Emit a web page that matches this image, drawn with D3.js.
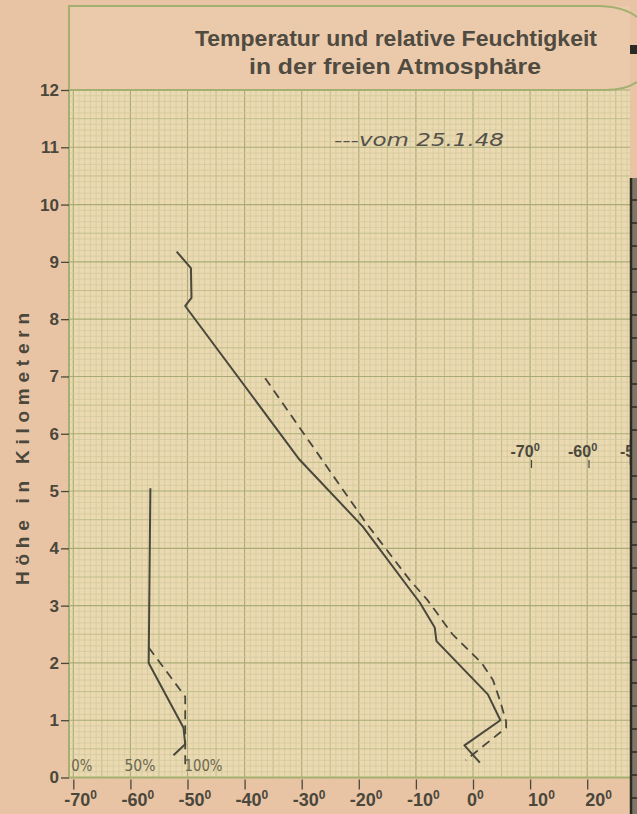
<!DOCTYPE html>
<html><head><meta charset="utf-8">
<script src="https://cdn.jsdelivr.net/npm/d3@7"></script>
<style>
html,body{margin:0;padding:0;background:#e8c5a6;}
svg{display:block;}
</style></head>
<body>
<svg id="c" width="637" height="814"></svg>
<script>
// ---- data ----
const heightTicks = [0,1,2,3,4,5,6,7,8,9,10,11,12];
const tempTicks = [-70,-60,-50,-40,-30,-20,-10,0,10,20];
const humidityLabels = ["0%","50%","100%"];
const humidityLabelValues = [0,50,100];
// Temperature, solid line (°C, km)
const tempSolidT = [-51.9,-49.4,-49.3,-50.4,-30.4,-19.3,-9.3,-6.7,-6.4,2.6,4.8,-1.5,1.2];
const tempSolidH = [9.18,8.89,8.37,8.23,5.55,4.38,3.05,2.62,2.38,1.45,1.0,0.56,0.26];
// Temperature, dashed line "vom 25.1.48"
const tempDashT = [-36.4,-18.7,-11.1,-8.0,-3.6,1.5,3.5,4.7,5.8,5.8,-1.3];
const tempDashH = [6.97,4.44,3.45,3.1,2.5,2.0,1.7,1.35,0.98,0.87,0.3];
// Relative humidity (% , km)
const humSolidP = [67.5,66,96.5,98,87.7];
const humSolidH = [5.05,2.0,0.87,0.58,0.39];
const humDashP = [66,98,98];
const humDashH = [2.27,1.41,0.2];
// secondary (cut-off) scale labels on the right
const extraTicks = [-70,-60];

// ---- drawing ----
const svg = d3.select("#c");
const ink = "#4a473b";
const x = d3.scaleLinear().domain([-70,20]).range([73.3,587.2]);
const y = d3.scaleLinear().domain([0,12]).range([777.5,90]);
const hx = d3.scaleLinear().domain([0,100]).range([x(-70),x(-50)]);

const L = 69, R = 630, T = y(12), B = y(0);

svg.append("rect").attr("width",637).attr("height",814).attr("fill","#e8c4a5");
svg.append("rect").attr("x",L).attr("y",6).attr("width",R-L).attr("height",T-6).attr("fill","#ebcaab");
svg.append("rect").attr("x",L).attr("y",T).attr("width",R-L).attr("height",B-T).attr("fill","#ead9b1");

const gGrid = svg.append("g");
for (let t=-71; t<=28; t++){
  const xx = x(t);
  if (xx < L || xx > R) continue;
  const lvl = (t%10===0)?2:((t%5===0)?1:0);
  gGrid.append("line").attr("x1",xx).attr("x2",xx).attr("y1",T).attr("y2",B)
    .attr("stroke", lvl===2?"#a8ab76":(lvl===1?"#bdbb88":"#d2c89d"))
    .attr("stroke-width", lvl===2?1.1:(lvl===1?0.9:0.7));
}
for (let i=0;i<=120;i++){
  const yy = y(i/10);
  const lvl = (i%10===0)?2:((i%5===0)?1:0);
  gGrid.append("line").attr("x1",L).attr("x2",R).attr("y1",yy).attr("y2",yy)
    .attr("stroke", lvl===2?"#a8ab76":(lvl===1?"#bdbb88":"#d2c89d"))
    .attr("stroke-width", lvl===2?1.1:(lvl===1?0.9:0.7));
}

const frame = "#a3b070";
svg.append("path").attr("d",`M${L},${B} L${L},6 L600,6 Q625,7 637,17`).attr("fill","none").attr("stroke",frame).attr("stroke-width",2);
svg.append("path").attr("d",`M${L},${T} L605,${T} Q625,${T} 637,${T-8}`).attr("fill","none").attr("stroke",frame).attr("stroke-width",2);
svg.append("line").attr("x1",L).attr("x2",R).attr("y1",B).attr("y2",B).attr("stroke",frame).attr("stroke-width",2);

// right dark edge
svg.append("rect").attr("x",631).attr("y",178).attr("width",6).attr("height",636).attr("fill","#7f7666");
svg.append("line").attr("x1",631).attr("x2",631).attr("y1",178).attr("y2",814).attr("stroke","#2c2a25").attr("stroke-width",2.5);
for (let yy=200; yy<814; yy+=23){
  svg.append("line").attr("x1",632).attr("x2",637).attr("y1",yy).attr("y2",yy).attr("stroke","#2c2a25").attr("stroke-width",1.5);
}
svg.append("rect").attr("x",630).attr("y",45).attr("width",7).attr("height",9).attr("fill","#2c2a25");

// title
svg.append("text").attr("x",396).attr("y",46).attr("text-anchor","middle")
  .attr("font-family","Liberation Sans, Arial, sans-serif").attr("font-weight","bold").attr("font-size",22)
  .attr("fill","#4f4b41").attr("textLength",402).attr("lengthAdjust","spacingAndGlyphs")
  .text("Temperatur und relative Feuchtigkeit");
svg.append("text").attr("x",395).attr("y",74).attr("text-anchor","middle")
  .attr("font-family","Liberation Sans, Arial, sans-serif").attr("font-weight","bold").attr("font-size",22)
  .attr("fill","#4f4b41").attr("textLength",292).attr("lengthAdjust","spacingAndGlyphs")
  .text("in der freien Atmosphäre");

// y axis
const yAxis = d3.axisLeft(y).tickValues(heightTicks).tickSize(8).tickPadding(2).tickFormat(d3.format("d"));
const gy = svg.append("g").attr("transform",`translate(${L},0)`).call(yAxis);
gy.select(".domain").remove();
gy.selectAll(".tick line").attr("stroke",ink).attr("stroke-width",1.3);
gy.selectAll(".tick text").attr("font-family","Liberation Sans, Arial, sans-serif").attr("font-weight","bold")
  .attr("font-size",17).attr("fill",ink);

// y title
svg.append("text").attr("transform","translate(29,449) rotate(-90)").attr("text-anchor","middle")
  .attr("font-family","Liberation Sans, Arial, sans-serif").attr("font-weight","bold").attr("font-size",19)
  .attr("fill",ink).attr("textLength",272).attr("lengthAdjust","spacing").text("Höhe in Kilometern");

// x axis (temperature)
const xAxis = d3.axisBottom(x).tickValues(tempTicks).tickSize(10).tickFormat("");
const gx = svg.append("g").attr("transform",`translate(0,${B+2})`).call(xAxis);
gx.select(".domain").remove();
gx.selectAll(".tick line").attr("stroke",ink).attr("stroke-width",1.3);
const xl = svg.append("g");
tempTicks.forEach(t=>{
  const tx = xl.append("text").attr("x", x(t) + (t<0?-9:(t===0?-6:-2))).attr("y",806)
    .attr("font-family","Liberation Sans, Arial, sans-serif").attr("font-weight","bold").attr("font-size",18).attr("fill",ink);
  tx.append("tspan").text(t<0?"-"+Math.abs(t):String(t));
  tx.append("tspan").attr("dy",-7).attr("font-size",12).text("0");
});

// humidity labels
humidityLabels.forEach((s,i)=>{
  svg.append("text").attr("x",hx(humidityLabelValues[i])+ (i===0?-2:(i===1?-6:-3))).attr("y",771)
    .attr("font-family","DejaVu Sans, sans-serif").attr("font-size",15).attr("fill","#6b6850")
    .attr("textLength", i===0?21:(i===1?31:38)).attr("lengthAdjust","spacingAndGlyphs").text(s);
});

// secondary cut-off labels
extraTicks.forEach(t=>{
  const px = 531.5 + (t+70)*5.75;
  svg.append("line").attr("x1",px).attr("x2",px).attr("y1",460).attr("y2",468).attr("stroke",ink).attr("stroke-width",1.2);
  const tx = svg.append("text").attr("x",px-21).attr("y",457)
    .attr("font-family","Liberation Sans, Arial, sans-serif").attr("font-weight","bold").attr("font-size",16).attr("fill",ink);
  tx.append("tspan").text("-"+Math.abs(t));
  tx.append("tspan").attr("dy",-6).attr("font-size",11).text("0");
});
svg.append("text").attr("x",620).attr("y",457).attr("font-family","Liberation Sans, Arial, sans-serif")
  .attr("font-weight","bold").attr("font-size",16).attr("fill",ink).text("-5");
svg.append("rect").attr("x",631).attr("y",440).attr("width",6).attr("height",25).attr("fill","#7f7666");
svg.append("line").attr("x1",631).attr("x2",631).attr("y1",440).attr("y2",465).attr("stroke","#2c2a25").attr("stroke-width",2.5);

// legend annotation
svg.append("text").attr("x",334).attr("y",146)
  .attr("font-family","DejaVu Sans, sans-serif").attr("font-style","italic").attr("font-size",17)
  .attr("fill","#55524a").attr("textLength",170).attr("lengthAdjust","spacingAndGlyphs").text("---vom 25.1.48");

// data lines
const lineTemp = d3.line().x(d=>x(d[0])).y(d=>y(d[1]));
const lineHum = d3.line().x(d=>hx(d[0])).y(d=>y(d[1]));
const zip = (a,b)=>a.map((v,i)=>[v,b[i]]);

svg.append("path").datum(zip(tempSolidT,tempSolidH)).attr("d",lineTemp)
  .attr("fill","none").attr("stroke",ink).attr("stroke-width",2).attr("stroke-linejoin","round");
svg.append("path").datum(zip(tempDashT,tempDashH)).attr("d",lineTemp)
  .attr("fill","none").attr("stroke",ink).attr("stroke-width",1.8).attr("stroke-dasharray","9,6");
svg.append("path").datum(zip(humSolidP,humSolidH)).attr("d",lineHum)
  .attr("fill","none").attr("stroke",ink).attr("stroke-width",2).attr("stroke-linejoin","round");
svg.append("path").datum(zip(humDashP,humDashH)).attr("d",lineHum)
  .attr("fill","none").attr("stroke",ink).attr("stroke-width",1.8).attr("stroke-dasharray","9,6");
</script>
</body></html>
